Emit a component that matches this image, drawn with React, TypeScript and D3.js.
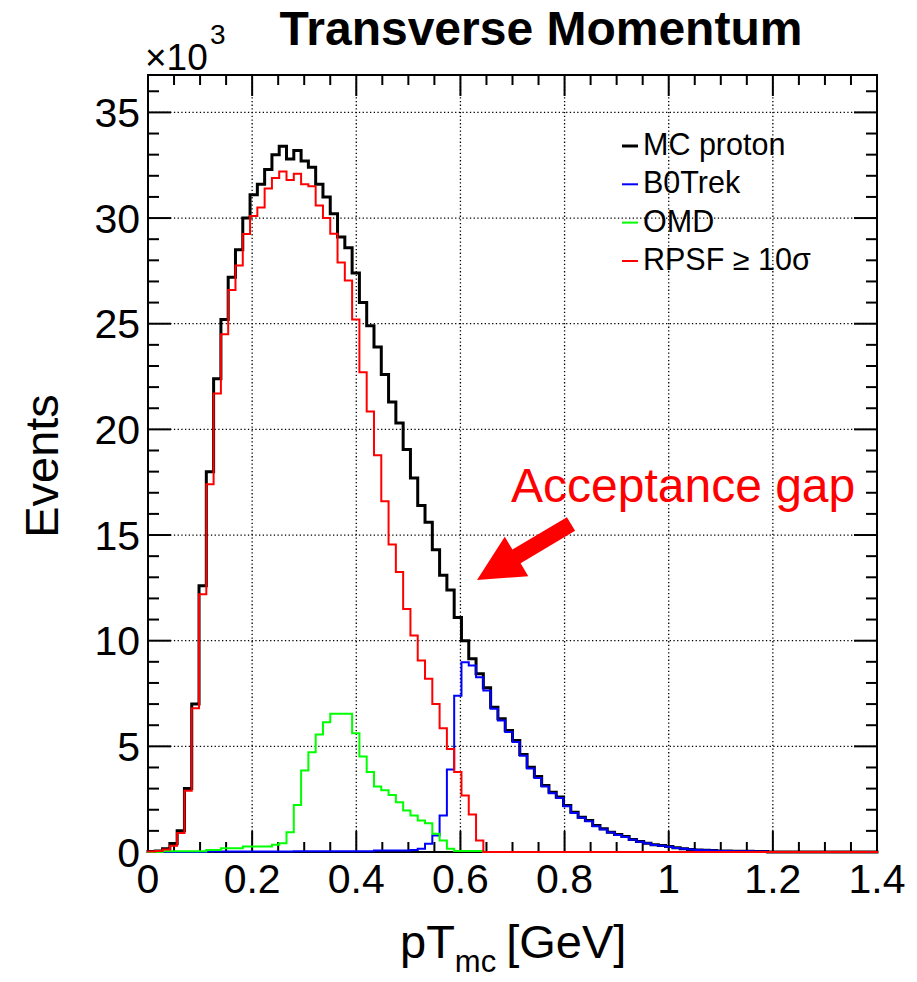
import React from "react";
import * as d3 from "d3";

// ---- data (units of 10^3 events), 100 bins from 0 to 1.4 GeV ----
const binEdgesRange = [0, 1.4];
const nBins = 100;

const mcProton = [
  0.02, 0.05, 0.15, 0.4, 1.0, 3.0, 7.0, 12.6, 18.0, 22.4,
  25.2, 27.2, 28.5, 30.0, 31.1, 31.6, 32.3, 33.0, 33.4, 32.8,
  33.2, 32.7, 32.4, 31.6, 31.0, 30.2, 29.1, 28.6, 27.4, 26.0,
  24.9, 23.9, 22.6, 21.3, 20.3, 19.05, 17.7, 16.4, 15.6, 14.3,
  13.1, 12.4, 11.1, 10.0, 9.14, 8.43, 7.77, 6.85, 6.3, 5.75,
  5.28, 4.61, 4.01, 3.57, 3.15, 2.83, 2.6, 2.2, 1.88, 1.65,
  1.49, 1.25, 1.1, 0.94, 0.83, 0.73, 0.59, 0.5, 0.42, 0.34,
  0.31, 0.26, 0.2, 0.15, 0.12, 0.1, 0.08, 0.07, 0.05, 0.05,
  0.04, 0.03, 0.03, 0.02, 0.02, 0, 0, 0, 0, 0,
  0, 0, 0, 0, 0, 0, 0, 0, 0, 0,
];

const b0Trek = [
  0, 0, 0, 0, 0, 0, 0, 0, 0.02, 0.02,
  0.02, 0.02, 0.02, 0.02, 0.02, 0.02, 0.02, 0.02, 0.02, 0.02,
  0.04, 0.04, 0.04, 0.04, 0.04, 0.04, 0.04, 0.04, 0.04, 0.04,
  0.04, 0.07, 0.07, 0.07, 0.07, 0.07, 0.1, 0.15, 0.39, 0.78,
  1.73, 3.9, 7.4, 8.98, 8.83, 8.27, 7.64, 6.78, 6.22, 5.68,
  5.2, 4.55, 3.95, 3.5, 3.1, 2.78, 2.55, 2.16, 1.84, 1.62,
  1.46, 1.22, 1.07, 0.92, 0.81, 0.71, 0.58, 0.49, 0.41, 0.33,
  0.3, 0.25, 0.19, 0.15, 0.12, 0.1, 0.08, 0.07, 0.05, 0.05,
  0.04, 0.03, 0.03, 0.02, 0.02, 0, 0, 0, 0, 0,
  0, 0, 0, 0, 0, 0, 0, 0, 0, 0,
];

const omd = [
  0, 0, 0.03, 0.03, 0.03, 0.03, 0.03, 0.03, 0.1, 0.1,
  0.18, 0.18, 0.18, 0.26, 0.26, 0.26, 0.26, 0.34, 0.42, 0.94,
  2.23, 3.86, 4.72, 5.56, 6.14, 6.54, 6.54, 6.54, 5.62, 4.52,
  3.78, 3.1, 2.92, 2.7, 2.36, 1.96, 1.73, 1.49, 1.36, 0.86,
  0.54, 0.15, 0.05, 0.05, 0.05, 0.05, 0, 0, 0, 0,
  0, 0, 0, 0, 0, 0, 0, 0, 0, 0,
  0, 0, 0, 0, 0, 0, 0, 0, 0, 0,
  0, 0, 0, 0, 0, 0, 0, 0, 0, 0,
  0, 0, 0, 0, 0, 0, 0, 0, 0, 0,
  0, 0, 0, 0, 0, 0, 0, 0, 0, 0,
];

const rpsf = [
  0.02, 0.05, 0.12, 0.3, 0.9, 2.9, 6.8, 12.2, 17.4, 21.7,
  24.5, 26.6, 27.75, 29.25, 30.1, 30.5, 31.4, 31.9, 32.2, 31.8,
  32.1, 31.6, 31.5, 30.6, 30.0, 29.26, 27.9, 27.05, 25.2, 22.7,
  20.85, 18.77, 16.6, 14.55, 13.25, 11.5, 10.25, 9.06, 8.2, 7.0,
  5.86, 4.88, 3.78, 2.67, 1.77, 0.54, 0, 0, 0, 0,
  0, 0, 0, 0, 0, 0, 0, 0, 0, 0,
  0, 0, 0, 0, 0, 0, 0, 0, 0, 0,
  0, 0, 0, 0, 0, 0, 0, 0, 0, 0,
  0, 0, 0, 0, 0, 0, 0, 0, 0, 0,
  0, 0, 0, 0, 0, 0, 0, 0, 0, 0,
];

const seriesNames = ["MC proton", "B0Trek", "OMD", "RPSF \u2265 10\u03c3"];
const seriesColors = ["#000000", "#0000ff", "#00ff00", "#ff0000"];
const seriesWidths = [3, 2, 2, 2];
const seriesData = [mcProton, b0Trek, omd, rpsf];

const xTicksMajor = [0, 0.2, 0.4, 0.6, 0.8, 1.0, 1.2, 1.4];
const xTickLabels = ["0", "0.2", "0.4", "0.6", "0.8", "1", "1.2", "1.4"];
const yTicksMajor = [0, 5, 10, 15, 20, 25, 30, 35];
const yMax = 36.77;

const FONT = "'Liberation Sans', Arial, Helvetica, sans-serif";

export default function App() {
  const W = 917;
  const H = 982;
  const left = 148;
  const right = 877;
  const top = 75;
  const bottom = 852;

  const x = d3.scaleLinear().domain(binEdgesRange).range([left, right]);
  const y = d3.scaleLinear().domain([0, yMax]).range([bottom, top]);

  const binW = (binEdgesRange[1] - binEdgesRange[0]) / nBins;
  const stepLine = d3
    .line<[number, number]>()
    .x((d) => x(d[0]))
    .y((d) => y(d[1]))
    .curve(d3.curveStepAfter);

  const pathFor = (vals: number[]) => {
    const pts: [number, number][] = vals.map((v, i) => [binEdgesRange[0] + i * binW, v]);
    pts.push([binEdgesRange[1], vals[vals.length - 1]]);
    return stepLine(pts) || "";
  };

  const xMinor = d3.range(0, 1.4001, 0.05);
  const yMinor = d3.range(0, 36.01, 1);

  const majLenY = 23;
  const minLenY = 11;
  const majLenX = 21;
  const minLenX = 10;

  // arrow geometry (annotation)
  const tail: [number, number] = [571, 524];
  const tip: [number, number] = [477, 580];
  const dx = tip[0] - tail[0];
  const dy = tip[1] - tail[1];
  const len = Math.hypot(dx, dy);
  const ux = dx / len;
  const uy = dy / len;
  const px = -uy;
  const py = ux;
  const headLen = 46;
  const headHalf = 23;
  const shaftHalf = 8;
  const bx = tip[0] - ux * headLen;
  const by = tip[1] - uy * headLen;
  const arrowPts = [
    [tail[0] + px * shaftHalf, tail[1] + py * shaftHalf],
    [bx + px * shaftHalf, by + py * shaftHalf],
    [bx + px * headHalf, by + py * headHalf],
    tip,
    [bx - px * headHalf, by - py * headHalf],
    [bx - px * shaftHalf, by - py * shaftHalf],
    [tail[0] - px * shaftHalf, tail[1] - py * shaftHalf],
  ]
    .map((p) => p.join(","))
    .join(" ");

  const legendX = 622;
  const legendBase = [155, 193.3, 231.6, 270];

  return (
    <svg
      width={W}
      height={H}
      style={{ position: "absolute", left: 0, top: 0, background: "#fff" }}
      fontFamily={FONT}
    >
      <rect x={0} y={0} width={W} height={H} fill="#fff" />
      {/* grid */}
      <g stroke="#000" strokeWidth={1.3} strokeDasharray="1.3,2.4">
        {xTicksMajor.slice(1, -1).map((t) => (
          <line key={"gx" + t} x1={x(t)} x2={x(t)} y1={top} y2={bottom} />
        ))}
        {yTicksMajor.slice(1).map((t) => (
          <line key={"gy" + t} x1={left} x2={right} y1={y(t)} y2={y(t)} />
        ))}
      </g>

      {/* ticks */}
      <g stroke="#000" strokeWidth={2}>
        {yMinor.map((t) => {
          const L = t % 5 === 0 ? majLenY : minLenY;
          return (
            <g key={"yt" + t}>
              <line x1={left} x2={left + L} y1={y(t)} y2={y(t)} />
              <line x1={right} x2={right - L} y1={y(t)} y2={y(t)} />
            </g>
          );
        })}
        {xMinor.map((t, i) => {
          const L = i % 4 === 0 ? majLenX : minLenX;
          return (
            <g key={"xt" + i}>
              <line x1={x(t)} x2={x(t)} y1={bottom} y2={bottom - L} />
              <line x1={x(t)} x2={x(t)} y1={top} y2={top + L} />
            </g>
          );
        })}
      </g>

      {/* frame */}
      <rect
        x={left}
        y={top}
        width={right - left}
        height={bottom - top}
        fill="none"
        stroke="#000"
        strokeWidth={2}
      />

      {/* histograms */}
      {seriesData.map((vals, k) => (
        <path
          key={"h" + k}
          d={pathFor(vals)}
          fill="none"
          stroke={seriesColors[k]}
          strokeWidth={seriesWidths[k]}
          strokeLinejoin="miter"
          strokeLinecap="square"
        />
      ))}

      {/* y tick labels */}
      <g fontSize={41} textAnchor="end" fill="#000">
        {yTicksMajor.map((t) => (
          <text key={"yl" + t} x={140} y={y(t)} dy="0.36em">
            {t}
          </text>
        ))}
      </g>
      {/* x tick labels */}
      <g fontSize={41} textAnchor="middle" fill="#000">
        {xTicksMajor.map((t, i) => (
          <text key={"xl" + t} x={x(t)} y={893}>
            {xTickLabels[i]}
          </text>
        ))}
      </g>

      {/* x10^3 */}
      <text x={145} y={70} fontSize={37} fill="#000">
        {"\u00d710"}
      </text>
      <text x={210} y={44} fontSize={28} fill="#000">
        3
      </text>

      {/* title */}
      <text x={541} y={45} fontSize={48} fontWeight="bold" textAnchor="middle" fill="#000">
        Transverse Momentum
      </text>

      {/* axis titles */}
      <text
        transform="translate(58,466) rotate(-90)"
        fontSize={47}
        textAnchor="middle"
        fill="#000"
      >
        Events
      </text>
      <text x={400} y={958} fontSize={47} fill="#000">
        pT
        <tspan fontSize={31} dy={14}>
          mc
        </tspan>
        <tspan fontSize={47} dy={-14} dx={10}>
          [GeV]
        </tspan>
      </text>

      {/* legend */}
      {seriesNames.map((n, k) => (
        <g key={"lg" + k}>
          <line
            x1={legendX}
            x2={legendX + 16}
            y1={legendBase[k] - 9}
            y2={legendBase[k] - 9}
            stroke={seriesColors[k]}
            strokeWidth={seriesWidths[k]}
          />
          <text x={643} y={legendBase[k]} fontSize={30.5} fill="#000">
            {n}
          </text>
        </g>
      ))}

      {/* annotation */}
      <text x={511} y={502} fontSize={48} fill="#ff0000">
        Acceptance gap
      </text>
      <polygon points={arrowPts} fill="#ff0000" />
    </svg>
  );
}
